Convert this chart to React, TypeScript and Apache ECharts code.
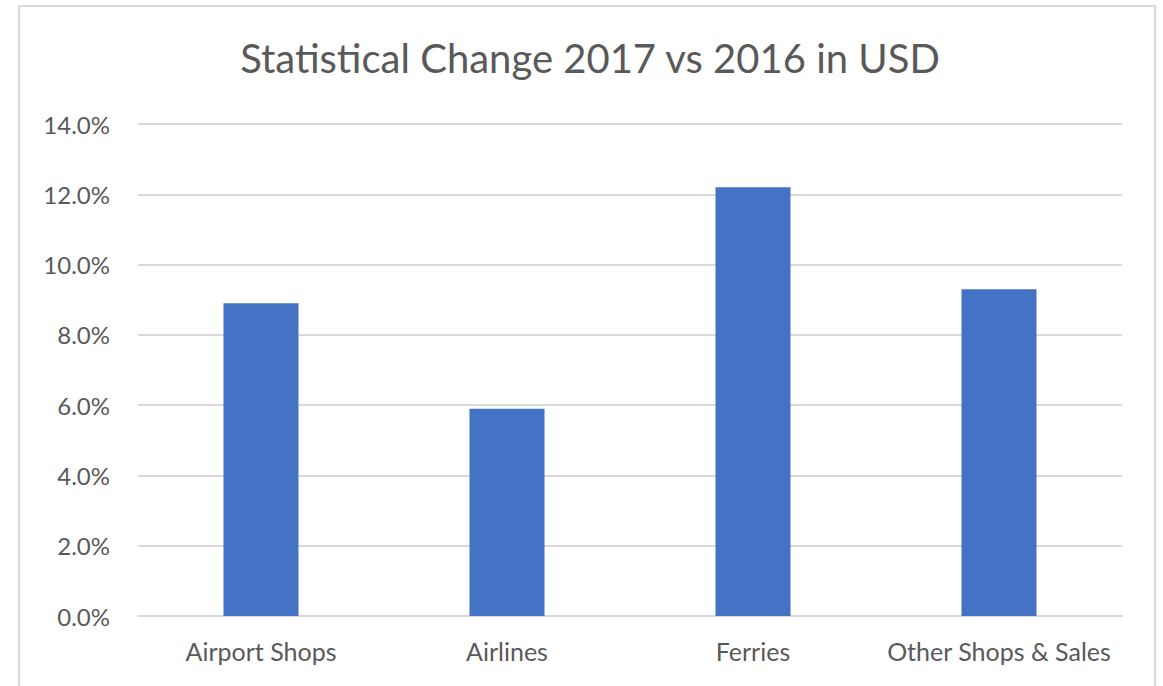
import React, { useEffect, useRef } from "react";
import * as echarts from "echarts";

const categories = ["Airport Shops", "Airlines", "Ferries", "Other Shops & Sales"];
const changePct = [8.9, 5.9, 12.2, 9.3];
const titleText = "Statistical Change 2017 vs 2016 in USD";

const FONT = "Lato, 'Open Sans', sans-serif";
const TEXT = "#595959";
const GRID = "#d9d9d9";

export default function App() {
  const ref = useRef<HTMLDivElement>(null);
  useEffect(() => {
    document.body.style.margin = "0";
    const chart = echarts.init(ref.current!, null, { renderer: "svg" });
    chart.setOption({
      animation: false,
      backgroundColor: "#ffffff",
      textStyle: { fontFamily: FONT },
      graphic: [
        {
          type: "rect",
          shape: { x: 19, y: 6, width: 1136, height: 720 },
          style: { fill: "none", stroke: GRID, lineWidth: 2 },
          silent: true,
        },
        {
          type: "text",
          x: 590,
          y: 58,
          style: {
            text: titleText,
            fontFamily: FONT,
            fontSize: 40,
            fill: TEXT,
            align: "center",
            verticalAlign: "middle",
          },
        },
      ],
      grid: { left: 138, right: 41, top: 124, bottom: 70, containLabel: false },
      xAxis: {
        type: "category",
        data: categories,
        axisLine: { show: true, lineStyle: { color: GRID, width: 2 } },
        axisTick: { show: false },
        axisLabel: { color: TEXT, fontSize: 25, fontFamily: FONT, margin: 22, interval: 0 },
      },
      yAxis: {
        type: "value",
        min: 0,
        max: 14,
        interval: 2,
        axisLine: { show: false },
        axisTick: { show: false },
        splitLine: { lineStyle: { color: GRID, width: 2 } },
        axisLabel: {
          color: TEXT,
          fontSize: 24,
          fontFamily: FONT,
          margin: 28,
          formatter: (v: number) => v.toFixed(1) + "%",
        },
      },
      series: [
        {
          type: "bar",
          data: changePct,
          barWidth: "30.5%",
          itemStyle: { color: "#4472C4" },
        },
      ],
    });
    return () => chart.dispose();
  }, []);
  return (
    <div
      ref={ref}
      style={{ position: "absolute", left: 0, top: 0, width: 1163, height: 686 }}
    />
  );
}
